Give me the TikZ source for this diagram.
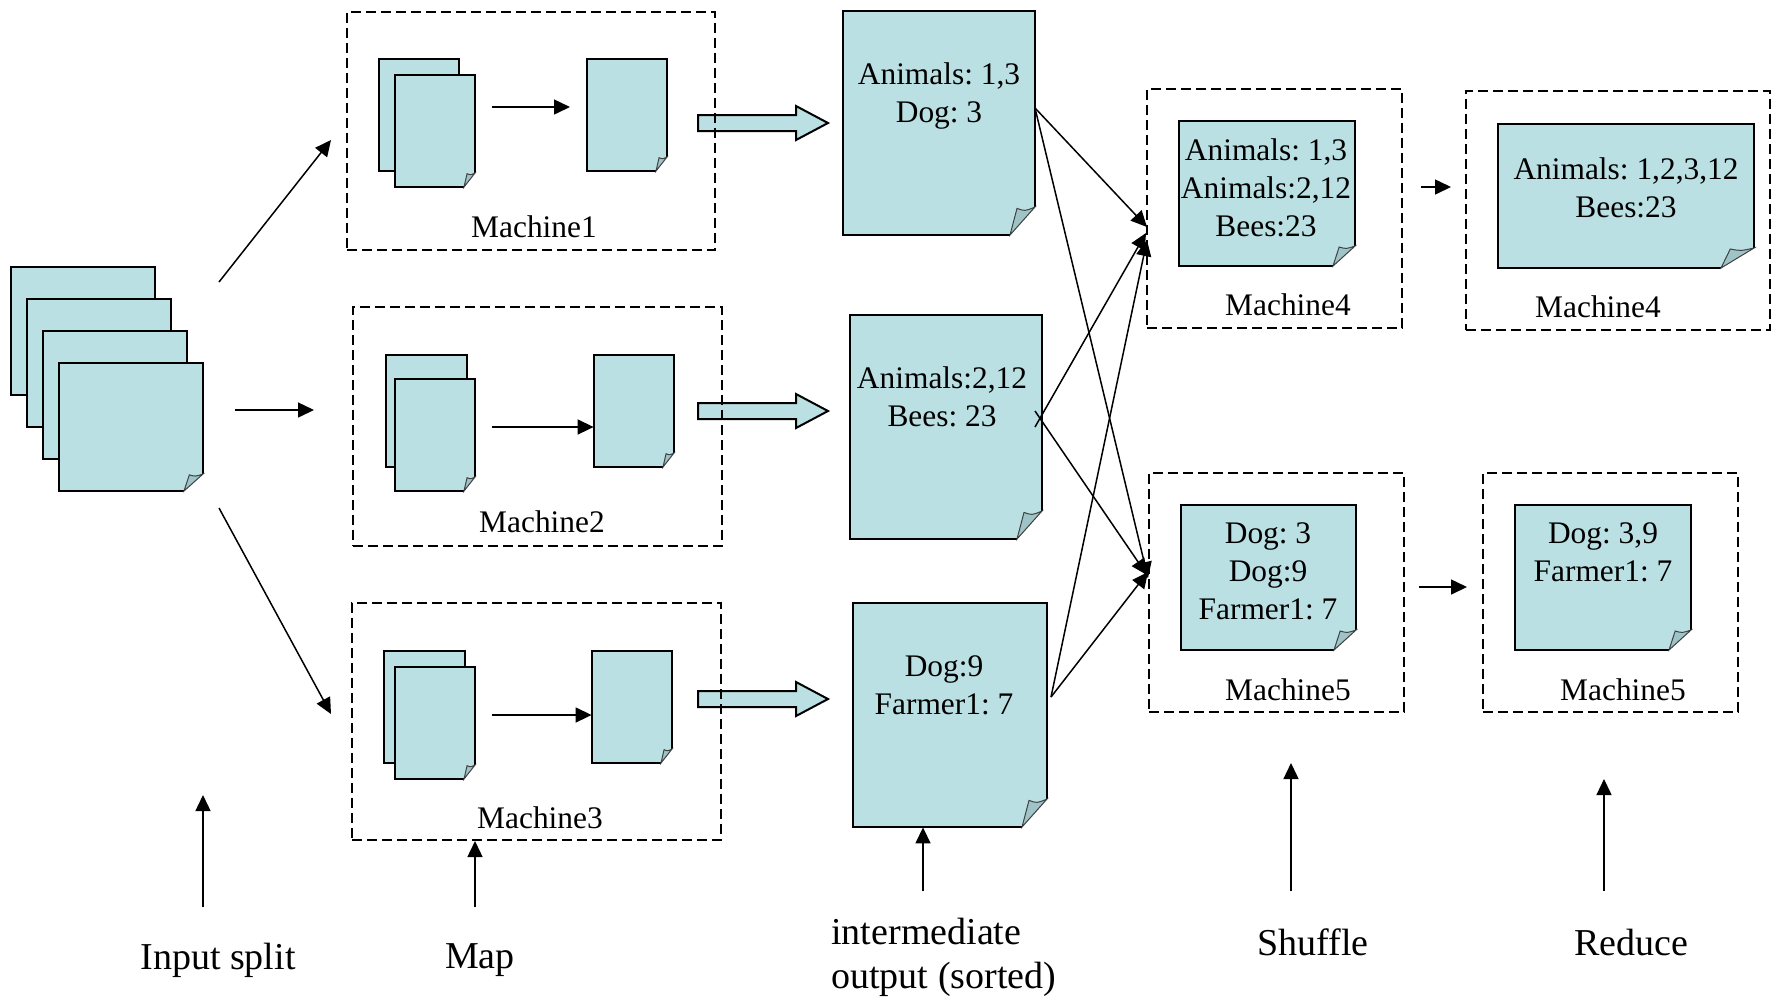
\documentclass[tikz,border=0pt]{standalone}
\usepackage{fontspec}
\setmainfont{Liberation Serif}
\usetikzlibrary{fit,arrows.meta}
\definecolor{docblue}{RGB}{187,224,227}
\definecolor{folddark}{RGB}{158,196,200}
\tikzset{
  sheetline/.style={draw=black,line width=1pt},
  foldpart/.style={fill=folddark,draw=black!75,line width=0.5pt},
  mbox/.style={draw=black,dash pattern=on 5pt off 2.5pt,line width=1pt,inner sep=0pt},
  conn/.style={line width=0.75pt,-{Triangle[length=8pt,width=7.5pt]}},
  blockarrow/.style={fill=docblue,draw=black,line width=1pt},
  lbl/.style={font=\fontsize{15.7}{19}\selectfont,align=center,inner sep=0pt},
  biglbl/.style={font=\fontsize{19}{22}\selectfont,inner sep=0pt},
  sheetbox/.style={inner sep=0pt}
}
% plain sheet: name x1 y1 x2 y2
\newcommand\plainsheet[5]{%
  \node[sheetbox,fit={(#2,#3) (#4,#5)}] (#1) {};
  \filldraw[fill=docblue,sheetline] (#2,#3) rectangle (#4,#5);
}
% folded sheet: name x1 y1 x2 y2 cx cy
\newcommand\foldsheet[7]{%
  \node[sheetbox,fit={(#2,#3) (#4,#5)}] (#1) {};
  \fill[docblue] (#2,#3) -- (#4,#3) -- (#4,#5-#7) -- (#4-#6,#5) -- (#2,#5) -- cycle;
  \draw[sheetline] (#4-#6,#5) -- (#2,#5) -- (#2,#3) -- (#4,#3) -- (#4,#5-#7);
  \filldraw[foldpart] (#4-#6,#5) -- (#4-0.72*#6,#5-0.95*#7) .. controls (#4-0.4*#6,#5-0.85*#7) .. (#4,#5-#7) -- cycle;
}
\begin{document}
\frenchspacing
\begin{tikzpicture}[x=0.5pt,y=-0.5pt]
\useasboundingbox (0,0) rectangle (1782,998);

% ---------- input split stack ----------
\plainsheet{s1}{11}{267}{155}{395}
\plainsheet{s2}{27}{299}{171}{427}
\plainsheet{s3}{43}{331}{187}{459}
\foldsheet{s4}{59}{363}{203}{491}{19}{17}

\coordinate (i1) at (219,282); \coordinate (i1e) at (331,140);
\coordinate (i2) at (235,410); \coordinate (i2e) at (314,410);
\coordinate (i3) at (219,508); \coordinate (i3e) at (331,714);
\draw[conn] (i1) -- (i1e);
\draw[conn] (i2) -- (i2e);
\draw[conn] (i3) -- (i3e);

% ---------- block arrows (map -> intermediate) ----------
\filldraw[blockarrow] (698,115) -- (796,115) -- (796,106) -- (828,123) -- (796,140) -- (796,131) -- (698,131) -- cycle;
\filldraw[blockarrow] (698,403) -- (796,403) -- (796,394) -- (828,411) -- (796,428) -- (796,419) -- (698,419) -- cycle;
\filldraw[blockarrow] (698,691) -- (796,691) -- (796,682) -- (828,699) -- (796,716) -- (796,707) -- (698,707) -- cycle;

% ---------- Machine1 ----------
\node[mbox,fit={(347,12) (715,250)}] (m1) {};
\plainsheet{m1b}{379}{59}{459}{171}
\foldsheet{m1f}{395}{75}{475}{187}{11}{14}
\foldsheet{m1o}{587}{59}{667}{171}{11}{14}
\coordinate (m1a) at (492,107);
\coordinate (m1e) at (570,107);
\draw[conn] (m1a) -- (m1e);
\node[lbl] (m1l) at (534,227) {Machine1};

% ---------- Machine2 ----------
\node[mbox,fit={(353,307) (722,546)}] (m2) {};
\plainsheet{m2b}{386}{355}{467}{467}
\foldsheet{m2f}{395}{379}{475}{491}{11}{14}
\foldsheet{m2o}{594}{355}{674}{467}{11}{14}
\coordinate (m2a) at (492,427);
\draw[conn] (m2a) -- (m2o.west |- m2a);
\node[lbl] (m2l) at (542,522) {Machine2};

% ---------- Machine3 ----------
\node[mbox,fit={(352,603) (721,840)}] (m3) {};
\plainsheet{m3b}{384}{651}{465}{763}
\foldsheet{m3f}{395}{667}{475}{779}{11}{14}
\foldsheet{m3o}{592}{651}{672}{763}{11}{14}
\coordinate (m3a) at (492,715);
\draw[conn] (m3a) -- (m3o.west |- m3a);
\node[lbl] (m3l) at (540,818) {Machine3};

% ---------- intermediate outputs ----------
\foldsheet{d1}{843}{11}{1035}{235}{25}{28}
\node[lbl] (d1t) at (939,96) {Animals: 1,3\\Dog: 3};
\foldsheet{d2}{850}{315}{1042}{539}{25}{28}
\node[lbl] (d2t) at (942,397) {Animals:2,12\\Bees: 23};
\foldsheet{d3}{853}{603}{1047}{827}{25}{28}
\node[lbl] (d3t) at (944,685) {Dog:9\\Farmer1: 7};

% ---------- shuffle boxes ----------
\node[mbox,fit={(1147,89) (1402,328)}] (sh4) {};
\foldsheet{sh4d}{1179}{121}{1355}{266}{22}{20}
\node[lbl] (sh4t) at (1266,188) {Animals: 1,3\\Animals:2,12\\Bees:23};
\node[lbl] (sh4l) at (1288,305) {Machine4};

\node[mbox,fit={(1149,473) (1404,712)}] (sh5) {};
\foldsheet{sh5d}{1181}{505}{1356}{650}{22}{20}
\node[lbl] (sh5t) at (1268,571) {Dog: 3\\Dog:9\\Farmer1: 7};
\node[lbl] (sh5l) at (1288,690) {Machine5};

% ---------- reduce boxes ----------
\node[mbox,fit={(1466,91) (1770,330)}] (rd4) {};
\foldsheet{rd4d}{1498}{124}{1754}{268}{33}{20}
\node[lbl] (rd4t) at (1626,188) {Animals: 1,2,3,12\\Bees:23};
\node[lbl] (rd4l) at (1598,307) {Machine4};

\node[mbox,fit={(1483,473) (1738,712)}] (rd5) {};
\foldsheet{rd5d}{1515}{505}{1691}{650}{22}{20}
\node[lbl] (rd5t) at (1603,552) {Dog: 3,9\\Farmer1: 7};
\node[lbl] (rd5l) at (1623,690) {Machine5};

% shuffle -> reduce arrows
\coordinate (a4s) at (1421,187); \coordinate (a4e) at (1451,187);
\coordinate (a5s) at (1419,587); \coordinate (a5e) at (1467,587);
\draw[conn] (a4s) -- (a4e);
\draw[conn] (a5s) -- (a5e);

% ---------- shuffle connectors ----------
\coordinate (o1) at (1035,108);
\coordinate (o2a) at (1035,427);
\coordinate (o2b) at (1035,411);
\coordinate (o3) at (1051,697);
\coordinate (e14) at (1147,227);
\coordinate (e24) at (1146,233);
\coordinate (e34) at (1147,240);
\coordinate (e15) at (1148,578);
\coordinate (e25) at (1147,575);
\coordinate (e35) at (1148,572);
\draw[conn] (o1) -- (e14);
\draw[conn] (o1) -- (e15);
\draw[conn] (o2a) -- (e24);
\draw[conn] (o2b) -- (e25);
\draw[conn] (o3) -- (e34);
\draw[conn] (o3) -- (e35);

% ---------- bottom labels ----------
\node[biglbl] (lin) at (218,960) {Input split};
\node[biglbl] (lmap) at (480,960) {Map};
\node[biglbl,align=left,anchor=west] (lint) at (831,957) {intermediate\\output (sorted)};
\node[biglbl] (lsh) at (1313,942) {Shuffle};
\node[biglbl] (lrd) at (1631,942) {Reduce};

\coordinate (bin) at (203,907);
\coordinate (bmap) at (475,907);
\coordinate (bint) at (923,891);
\coordinate (bsh) at (1291,891);
\coordinate (brd) at (1604,891);
\coordinate (tin) at (203,795);
\coordinate (tsh) at (1291,763);
\coordinate (trd) at (1604,779);
\draw[conn] (bin) -- (tin);
\draw[conn] (bmap) -- (m3.south -| bmap);
\draw[conn] (bint) -- (d3.south -| bint);
\draw[conn] (bsh) -- (tsh);
\draw[conn] (brd) -- (trd);
\end{tikzpicture}
\end{document}
